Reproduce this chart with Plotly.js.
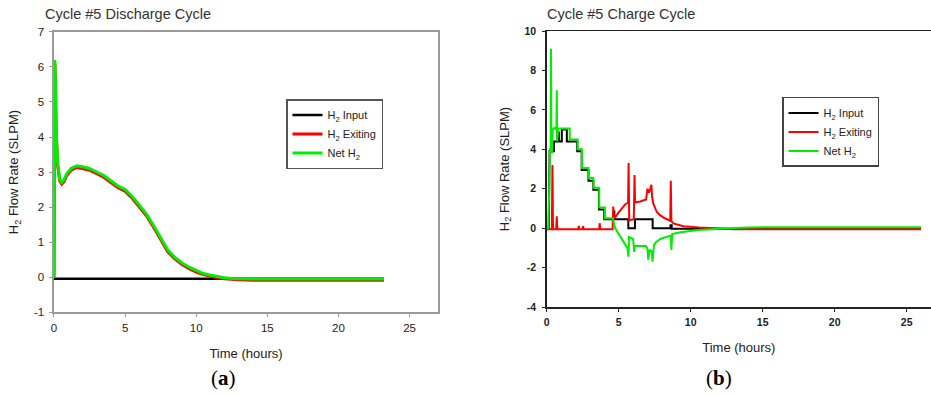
<!DOCTYPE html>
<html>
<head>
<meta charset="utf-8">
<script src="https://cdn.plot.ly/plotly-3.0.1.min.js"></script>
<style>
html,body{margin:0;padding:0;background:#fff;overflow:hidden;}
#chart{width:931px;height:394px;}
</style>
</head>
<body>
<div id="chart"></div>
<script>
// ---------- (a) Discharge cycle ----------
const disTime   = [0, 0.03, 0.06, 0.1, 0.15, 0.25, 0.4, 0.55, 0.7, 0.9, 1.2, 1.6, 2.0, 2.5, 3.0, 3.5, 4.0, 4.5, 5.0, 5.5, 6.0, 6.5, 7.0, 7.5, 8.0, 8.5, 9.0, 9.5, 10.0, 10.5, 11.0, 11.5, 12.0, 12.5, 13.0, 14, 16, 18, 20, 22, 23.2];
const disExit   = [0, 3.0, 6.1, 5.5, 4.2, 3.2, 2.75, 2.65, 2.72, 2.9, 3.05, 3.13, 3.1, 3.05, 2.95, 2.85, 2.7, 2.55, 2.45, 2.25, 2.0, 1.75, 1.42, 1.05, 0.72, 0.52, 0.36, 0.24, 0.14, 0.07, 0.02, -0.02, -0.05, -0.07, -0.08, -0.09, -0.09, -0.09, -0.09, -0.09, -0.09];
const disNet    = [0, 3.1, 6.2, 5.6, 4.3, 3.3, 2.8, 2.7, 2.78, 2.95, 3.1, 3.18, 3.15, 3.1, 3.0, 2.9, 2.75, 2.6, 2.5, 2.3, 2.05, 1.8, 1.47, 1.1, 0.77, 0.56, 0.4, 0.28, 0.18, 0.1, 0.05, 0.01, -0.02, -0.04, -0.05, -0.06, -0.06, -0.06, -0.06, -0.06, -0.06];
const disInTime = [0, 5, 10, 15, 20, 23.2];
const disInput  = [-0.05, -0.05, -0.05, -0.05, -0.05, -0.05];

// ---------- (b) Charge cycle ----------
const chgInTime = [0, 0.15, 0.2, 0.5, 0.5, 0.75, 0.75, 0.85, 0.85, 1.05, 1.05, 1.4, 1.4, 2.12, 2.12, 2.43, 2.43, 2.9, 2.9, 3.24, 3.24, 3.63, 3.63, 4.0, 4.0, 4.65, 4.65, 4.7, 4.7, 5.67, 5.67, 6.13, 6.13, 7.36, 7.36, 8.6, 8.6, 8.68, 8.68, 12, 20, 26];
const chgInput  = [0, 0, 3.9, 3.9, 4.4, 4.4, 4.85, 4.85, 4.4, 4.4, 5.0, 5.0, 4.4, 4.4, 3.9, 3.9, 2.95, 2.95, 2.4, 2.4, 1.95, 1.95, 0.95, 0.95, 0.45, 0.45, 0.85, 0.85, 0.45, 0.45, 0, 0, 0.45, 0.45, 0, 0, 0.15, 0.15, -0.03, -0.03, -0.03, -0.03];

const chgExTime = [0, 0.36, 0.4, 0.44, 0.66, 0.7, 0.74, 2.2, 2.23, 2.26, 2.5, 2.53, 2.56, 3.65, 3.68, 3.72, 4.58, 4.62, 4.66, 4.8, 5.0, 5.2, 5.45, 5.65, 5.69, 5.73, 6.05, 6.1, 6.14, 6.5, 6.9, 7.0, 7.1, 7.2, 7.27, 7.32, 7.4, 7.64, 7.87, 8.2, 8.58, 8.62, 8.66, 8.8, 9.5, 10.6, 11.8, 13, 20, 26];
const chgExit   = [-0.05, -0.05, 3.2, -0.05, -0.05, 0.6, -0.05, -0.05, 0.12, -0.05, -0.05, 0.1, -0.05, -0.05, 0.25, -0.05, -0.05, 1.1, 0.5, 0.6, 0.8, 1.0, 1.2, 1.3, 3.3, 0.4, 0.45, 2.7, 1.3, 1.35, 1.45, 2.0, 1.8, 2.0, 2.2, 1.6, 1.25, 0.83, 0.66, 0.5, 0.38, 2.4, 0.35, 0.24, 0.1, 0.03, -0.02, -0.05, -0.06, -0.06];

const chgNetTime = [0, 0.1, 0.18, 0.22, 0.28, 0.3, 0.33, 0.38, 0.42, 0.55, 0.68, 0.7, 0.73, 0.8, 1.6, 1.6, 2.15, 2.15, 2.45, 2.45, 2.9, 2.9, 3.25, 3.25, 3.65, 3.65, 4.05, 4.05, 4.6, 4.75, 5.0, 5.3, 5.6, 5.68, 5.72, 6.0, 6.08, 6.12, 6.9, 7.0, 7.05, 7.15, 7.3, 7.35, 7.45, 7.6, 7.9, 8.3, 8.62, 8.66, 8.72, 9.2, 9.8, 10.5, 11.5, 12.5, 14, 16, 26];
const chgNet     = [0, 0, 2.0, 4.0, 4.1, 9.1, 4.0, 3.8, 5.0, 5.1, 5.0, 7.0, 4.4, 5.05, 5.05, 4.5, 4.5, 4.0, 4.0, 3.05, 3.05, 2.55, 2.55, 2.05, 2.05, 1.05, 1.05, 0.5, 0.5, 0.0, -0.3, -0.65, -1.0, -1.45, -0.45, -0.55, -1.2, -0.9, -0.9, -1.05, -1.6, -1.1, -1.2, -1.7, -0.85, -0.7, -0.55, -0.45, -0.38, -1.1, -0.3, -0.22, -0.15, -0.1, -0.05, 0.0, 0.03, 0.05, 0.05];

// ---------- tick labels ----------
const xTickVals  = [0, 5, 10, 15, 20, 25];
const xTickText  = ['0', '5', '10', '15', '20', '25'];
const yTickValsA = [-1, 0, 1, 2, 3, 4, 5, 6, 7];
const yTickTextA = ['-1', '0', '1', '2', '3', '4', '5', '6', '7'];
const yTickValsB = [-4, -2, 0, 2, 4, 6, 8, 10];
const yTickTextB = ['-4', '-2', '0', '2', '4', '6', '8', '10'];

const legendNames = ['H<sub>2</sub> Input', 'H<sub>2</sub> Exiting', 'Net H<sub>2</sub>'];
const colInput = '#000000', colExit = '#ff0000', colNet = '#00ee00';

const traces = [
  {x: disInTime, y: disInput, name: legendNames[0], type: 'scatter', mode: 'lines', line: {color: colInput, width: 2.5}, xaxis: 'x', yaxis: 'y', legend: 'legend'},
  {x: disTime, y: disExit, name: legendNames[1], type: 'scatter', mode: 'lines', line: {color: colExit, width: 3}, xaxis: 'x', yaxis: 'y', legend: 'legend'},
  {x: disTime, y: disNet, name: legendNames[2], type: 'scatter', mode: 'lines', line: {color: colNet, width: 3}, xaxis: 'x', yaxis: 'y', legend: 'legend'},
  {x: chgInTime, y: chgInput, name: legendNames[0], type: 'scatter', mode: 'lines', line: {color: colInput, width: 2}, xaxis: 'x2', yaxis: 'y2', legend: 'legend2', legendrank: 1},
  {x: chgExTime, y: chgExit, name: legendNames[1], type: 'scatter', mode: 'lines', line: {color: colExit, width: 2}, xaxis: 'x2', yaxis: 'y2', legend: 'legend2', legendrank: 2},
  {x: chgNetTime, y: chgNet, name: legendNames[2], type: 'scatter', mode: 'lines', line: {color: colNet, width: 2}, xaxis: 'x2', yaxis: 'y2', legend: 'legend2', legendrank: 3}
];

const FONT = 'Arial, "Liberation Sans", sans-serif';
const axA = {showline: true, mirror: true, linecolor: '#9a9a9a', linewidth: 1.5, ticks: 'outside', ticklen: 3, tickcolor: '#9a9a9a',
  showgrid: false, zeroline: false, tickfont: {family: FONT, size: 11.5, color: '#222'}};
const axB = {showline: true, linecolor: '#222', linewidth: 1.5, ticks: 'outside', ticklen: 3, tickcolor: '#222',
  showgrid: false, zeroline: false, tickfont: {family: FONT, size: 10.5, color: '#222', weight: 'bold'}};

const layout = {
  width: 931, height: 394,
  margin: {l: 0, r: 0, t: 0, b: 0},
  paper_bgcolor: '#fff', plot_bgcolor: '#fff',
  font: {family: FONT, color: '#222'},
  showlegend: true,
  xaxis: Object.assign({}, axA, {domain: [0.058, 0.4705], range: [0, 27], tickmode: 'array', tickvals: xTickVals, ticktext: xTickText, anchor: 'y',
    ticklabelstandoff: 2,
    title: {text: 'Time (hours)', font: {family: FONT, size: 13, color: '#222'}, standoff: 15}}),
  yaxis: Object.assign({}, axA, {domain: [0.2081, 0.9188], range: [-1, 7], tickmode: 'array', tickvals: yTickValsA, ticktext: yTickTextA, anchor: 'x',
    ticklabelstandoff: 3,
    title: {text: 'H<sub>2</sub> Flow Rate (SLPM)', font: {family: FONT, size: 13, color: '#222'}, standoff: 12}}),
  xaxis2: Object.assign({}, axB, {mirror: true, domain: [0.5872, 1], range: [0, 26.69], tickmode: 'array', tickvals: xTickVals, ticktext: xTickText, anchor: 'y2',
    ticklabelstandoff: 2,
    title: {text: 'Time (hours)', font: {family: FONT, size: 13, color: '#222'}, standoff: 16}}),
  yaxis2: Object.assign({}, axB, {domain: [0.2208, 0.9213], range: [-4, 10], tickmode: 'array', tickvals: yTickValsB, ticktext: yTickTextB, anchor: 'x2',
    ticklabelstandoff: 4,
    title: {text: 'H<sub>2</sub> Flow Rate (SLPM)', font: {family: FONT, size: 13, color: '#222'}, standoff: 12}}),
  legend: {x: 0.3072, y: 0.7487, xanchor: 'left', yanchor: 'top', bgcolor: '#fff', bordercolor: '#555', borderwidth: 1.5,
    font: {family: FONT, size: 11, color: '#222'}, tracegroupgap: 0, itemwidth: 30},
  legend2: {x: 0.84, y: 0.754, xanchor: 'left', yanchor: 'top', bgcolor: '#fff', bordercolor: '#444', borderwidth: 1.5,
    font: {family: FONT, size: 11, color: '#222'}, tracegroupgap: 0, itemwidth: 30, traceorder: 'normal'},
  annotations: [
    {text: 'Cycle #5 Discharge Cycle', xref: 'paper', yref: 'paper', x: 43/931, y: 1 - 14/394, xanchor: 'left', yanchor: 'middle', showarrow: false,
      font: {family: FONT, size: 14.5, color: '#333'}},
    {text: 'Cycle #5 Charge Cycle', xref: 'paper', yref: 'paper', x: 545/931, y: 1 - 14/394, xanchor: 'left', yanchor: 'middle', showarrow: false,
      font: {family: FONT, size: 14.5, color: '#333'}},
    {text: '(<b>a</b>)', xref: 'paper', yref: 'paper', x: 223/931, y: 1 - 378/394, xanchor: 'center', yanchor: 'middle', showarrow: false,
      font: {family: '"Liberation Serif", "Times New Roman", serif', size: 21, color: '#000'}},
    {text: '(<b>b</b>)', xref: 'paper', yref: 'paper', x: 719/931, y: 1 - 378/394, xanchor: 'center', yanchor: 'middle', showarrow: false,
      font: {family: '"Liberation Serif", "Times New Roman", serif', size: 21, color: '#000'}}
  ]
};

Plotly.newPlot('chart', traces, layout, {displayModeBar: false, staticPlot: true});
</script>
</body>
</html>
